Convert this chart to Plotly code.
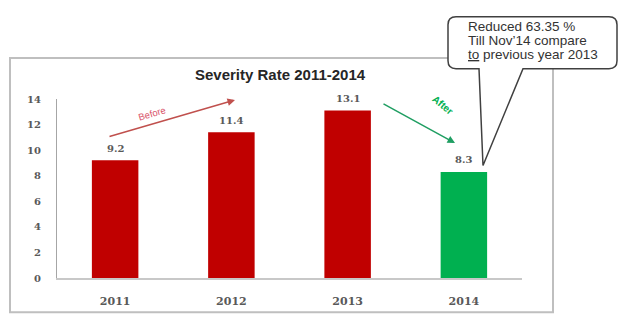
import plotly.graph_objects as go

# ---- data ----
years = ["2011", "2012", "2013", "2014"]
severity = [9.2, 11.4, 13.1, 8.3]
bar_colors = ["#C00000", "#C00000", "#C00000", "#00B050"]
y_ticks = [0, 2, 4, 6, 8, 10, 12, 14]
title_text = "Severity Rate 2011-2014"
callout_lines = ["Reduced 63.35 %", "Till Nov\u201914 compare", "<u>to</u> previous year 2013"]

# ---- layout geometry (pixels) ----
W, H = 619, 320
L, R, T, B = 57, 522, 99, 282


def px(x):
    return (x - L) / (R - L)


def py(y):
    return (B - y) / (B - T)


fig = go.Figure()
fig.add_trace(go.Bar(
    x=years, y=severity, marker=dict(color=bar_colors, line=dict(width=0)),
    width=0.4, hoverinfo="skip",
))

annotations = []
# data labels (x given as category index on the category axis)
for i, v in enumerate(severity):
    annotations.append(dict(
        x=i, y=v, xref="x", yref="y", text=f"{v}", showarrow=False,
        yshift=12, font=dict(family="DejaVu Serif", size=10, color="#595959", weight="bold"),
    ))

# title
annotations.append(dict(
    x=px(280), y=py(74), xref="paper", yref="paper", text=f"<b>{title_text}</b>",
    showarrow=False, xanchor="center", yanchor="middle",
    font=dict(family="Liberation Sans", size=15, color="#262626"),
))

# Before arrow + label
annotations.append(dict(
    x=px(235), y=py(100), xref="paper", yref="paper", ax=108 - 235, ay=137 - 100,
    axref="pixel", ayref="pixel", text="", showarrow=True, arrowhead=2,
    arrowsize=1, arrowwidth=1.5, arrowcolor="#C0504D", standoff=0,
))
annotations.append(dict(
    x=px(152), y=py(114), xref="paper", yref="paper", text="Before", textangle=-16,
    showarrow=False, xanchor="center", yanchor="middle",
    font=dict(family="Liberation Sans", size=9.5, color="#D9546A"),
))

# After arrow + label
annotations.append(dict(
    x=px(455), y=py(144), xref="paper", yref="paper", ax=382 - 455, ay=104 - 144,
    axref="pixel", ayref="pixel", text="", showarrow=True, arrowhead=2,
    arrowsize=1, arrowwidth=1.5, arrowcolor="#1F9E62", standoff=0,
))
annotations.append(dict(
    x=px(442), y=py(105), xref="paper", yref="paper", text="<b>After</b>", textangle=40,
    showarrow=False, xanchor="center", yanchor="middle",
    font=dict(family="Liberation Sans", size=10, color="#00B050"),
))

# callout text, one annotation per line
for i, line in enumerate(callout_lines):
    annotations.append(dict(
        x=px(466), y=py(25 + 14 * i), xref="paper", yref="paper", text=line,
        showarrow=False, xanchor="left", yanchor="middle", align="left",
        font=dict(family="Liberation Sans", size=13.5, color="#333333"),
    ))

shapes = []
# outer chart frame
shapes.append(dict(
    type="rect", xref="paper", yref="paper",
    x0=px(10), x1=px(553), y0=py(317), y1=py(57),
    line=dict(color="#BFBFBF", width=2), fillcolor="rgba(0,0,0,0)", layer="below",
))

# callout bubble with tail
r = 8
x0c, x1c, y0c, y1c = 448, 617, 15, 68
pts = (
    f"M {px(x0c + r)},{py(y0c)} L {px(x1c - r)},{py(y0c)} "
    f"Q {px(x1c)},{py(y0c)} {px(x1c)},{py(y0c + r)} "
    f"L {px(x1c)},{py(y1c - r)} Q {px(x1c)},{py(y1c)} {px(x1c - r)},{py(y1c)} "
    f"L {px(523)},{py(y1c)} L {px(483)},{py(167)} L {px(479)},{py(y1c)} "
    f"L {px(x0c + r)},{py(y1c)} Q {px(x0c)},{py(y1c)} {px(x0c)},{py(y1c - r)} "
    f"L {px(x0c)},{py(y0c + r)} Q {px(x0c)},{py(y0c)} {px(x0c + r)},{py(y0c)} Z"
)
shapes.append(dict(
    type="path", xref="paper", yref="paper", path=pts,
    line=dict(color="#404040", width=1.5), fillcolor="white", layer="below",
))

fig.update_layout(
    width=W, height=H, autosize=False,
    margin=dict(l=L, r=W - R, t=T, b=H - B, pad=0),
    paper_bgcolor="white", plot_bgcolor="white",
    showlegend=False, bargap=0.6,
    annotations=annotations, shapes=shapes,
    xaxis=dict(
        type="category", range=[-0.5, len(years) - 0.5],
        showgrid=False, zeroline=False, showline=True, linecolor="#C8C8C8", linewidth=2,
        ticks="", ticklabelstandoff=12, fixedrange=True,
        tickfont=dict(family="DejaVu Serif", size=11, color="#595959", weight="bold"),
    ),
    yaxis=dict(
        range=[0, 14], tickvals=y_ticks, showgrid=False, zeroline=False,
        showline=True, linecolor="#A6A6A6", linewidth=1, ticks="",
        ticklabelstandoff=13, fixedrange=True,
        tickfont=dict(family="DejaVu Serif", size=10, color="#595959", weight="bold"),
    ),
)

fig.write_html("out.html", config={"displayModeBar": False})
